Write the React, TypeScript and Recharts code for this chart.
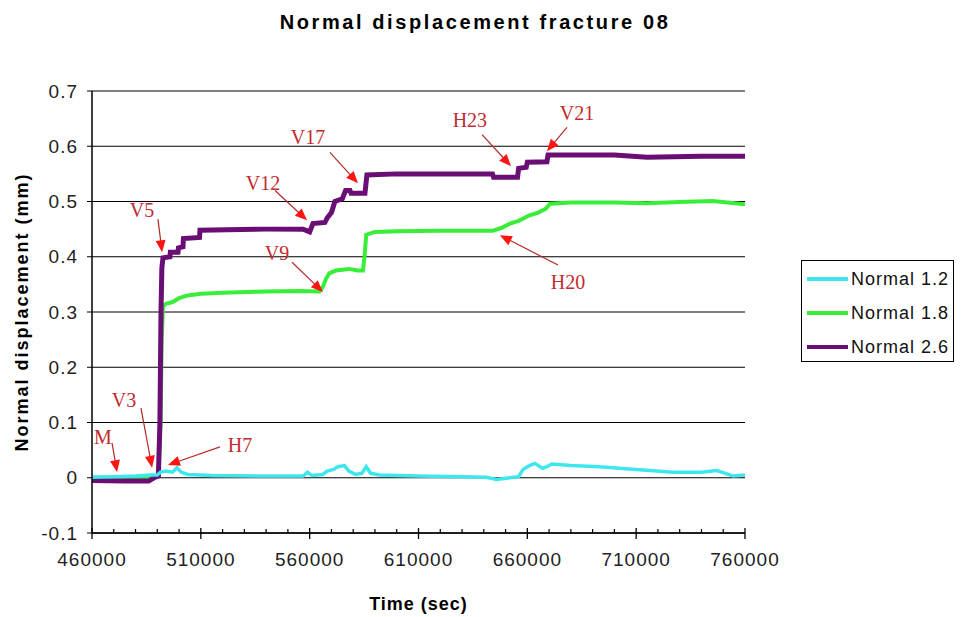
import React from "react";
import {
  CartesianGrid,
  Line,
  LineChart,
  ReferenceDot,
  ReferenceLine,
  XAxis,
  YAxis,
} from "recharts";

// Normal 1.2 (cyan)
const normal12Times = [
  460000, 470000, 480000, 487000, 490000, 491500, 494000, 497000, 499000, 501000,
  504000, 515000, 540000, 557000, 559000, 561000, 566000, 568000, 571000, 573000,
  576000, 578000, 581000, 584000, 586000, 588000, 592000, 610000, 630000, 641000,
  646000, 652000, 656000, 658000, 661000, 663500, 667000, 669000, 671300, 680000,
  693000, 710000, 727000, 740000, 747000, 751000, 754500, 760000,
];
const normal12Values = [
  0.001, 0.002, 0.003, 0.005, 0.005, 0.01, 0.012, 0.01, 0.018, 0.01,
  0.006, 0.004, 0.003, 0.003, 0.01, 0.004, 0.006, 0.012, 0.015, 0.02,
  0.022, 0.012, 0.006, 0.008, 0.02, 0.008, 0.005, 0.003, 0.002, 0.001,
  -0.003, 0.0, 0.002, 0.015, 0.022, 0.026, 0.017, 0.02, 0.025, 0.022,
  0.02, 0.015, 0.01, 0.01, 0.013, 0.008, 0.003, 0.005,
];

// Normal 1.8 (green)
const normal18Times = [
  460000, 488000, 490500, 491500, 492000, 492600, 494000, 497000, 500000, 504000,
  510000, 520000, 540000, 555000, 564500, 566000, 567500, 569000, 572000, 578000,
  582000, 584500, 585200, 586000, 590000, 600000, 620000, 644000, 648000, 652000,
  656000, 661000, 665000, 668500, 670400, 680000, 700000, 715000, 730000, 745000,
  752000, 760000,
];
const normal18Values = [
  0.0, 0.0, 0.005, 0.1, 0.25, 0.31, 0.315, 0.318, 0.325, 0.33,
  0.333, 0.335, 0.337, 0.338, 0.337, 0.345, 0.36, 0.37, 0.375, 0.378,
  0.375, 0.375, 0.4, 0.44, 0.445, 0.446, 0.447, 0.447, 0.452, 0.46,
  0.465, 0.475, 0.48, 0.487, 0.496, 0.498, 0.498, 0.497, 0.499, 0.501,
  0.498, 0.495,
];

// Normal 2.6 (purple)
const normal26Times = [
  460000, 475000, 486000, 488500, 490500, 491200, 491700, 492100, 492600, 495800,
  496000, 499500, 499700, 501800, 502000, 509400, 509600, 540000, 557000, 560000,
  561500, 567000, 568000, 570000, 571600, 575000, 576500, 578500, 579000, 585400,
  586300, 600000, 620000, 644000, 644500, 655500, 656000, 659500, 660000, 669000,
  669500, 700000, 715000, 740000, 760000,
];
const normal26Values = [
  -0.005, -0.006, -0.006, 0.0, 0.003, 0.1, 0.3, 0.38, 0.398, 0.4,
  0.408, 0.408, 0.416, 0.418, 0.433, 0.435, 0.448, 0.45, 0.45, 0.445,
  0.46, 0.462, 0.47, 0.48, 0.5, 0.505, 0.52, 0.52, 0.515, 0.515,
  0.548, 0.55, 0.55, 0.55, 0.544, 0.544, 0.56, 0.562, 0.571, 0.572,
  0.584, 0.584, 0.58, 0.582, 0.582,
];

const seriesNames = ["Normal 1.2", "Normal 1.8", "Normal 2.6"];
const seriesColors = ["#3ee6ee", "#38ee38", "#6a0e76"];
const seriesWidths = [3.5, 4, 5];

const xTicks = [
  460000, 470000, 480000, 490000, 500000, 510000, 520000, 530000, 540000, 550000,
  560000, 570000, 580000, 590000, 600000, 610000, 620000, 630000, 640000, 650000,
  660000, 670000, 680000, 690000, 700000, 710000, 720000, 730000, 740000, 750000,
  760000,
];
const xLabelTicks = [460000, 510000, 560000, 610000, 660000, 710000, 760000];
const yTicks = [-0.1, 0, 0.1, 0.2, 0.3, 0.4, 0.5, 0.6, 0.7];

// annotations: label, text position, arrow start, arrow tip (data coords)
const noteLabels = ["M", "V3", "H7", "V5", "V9", "V12", "V17", "H23", "V21", "H20"];
const noteTextT = [465000, 474700, 528000, 483000, 545000, 538600, 559200, 633600, 682800, 678700];
const noteTextV = [0.074, 0.14, 0.059, 0.484, 0.406, 0.534, 0.616, 0.647, 0.661, 0.354];
const arrowFromT = [469200, 482500, 518800, 490300, 551900, 544100, 569300, 639200, 678200, 674100];
const arrowFromV = [0.063, 0.126, 0.056, 0.468, 0.39, 0.52, 0.589, 0.621, 0.634, 0.385];
const arrowTipT = [471500, 487600, 494900, 492200, 566100, 558800, 582200, 652500, 669000, 647400];
const arrowTipV = [0.01, 0.018, 0.023, 0.408, 0.336, 0.466, 0.533, 0.564, 0.591, 0.439];

const seriesData = [
  normal12Times.map((t, i) => ({ t, v: normal12Values[i] })),
  normal18Times.map((t, i) => ({ t, v: normal18Values[i] })),
  normal26Times.map((t, i) => ({ t, v: normal26Values[i] })),
];
// draw order: green, purple, cyan on top
const drawOrder = [1, 2, 0];

const SANS = '"Liberation Sans", Arial, sans-serif';
const SERIF = '"Liberation Serif", "Times New Roman", serif';

function ArrowShape(props: any) {
  const { x1, y1, x2, y2 } = props;
  const dx = x2 - x1;
  const dy = y2 - y1;
  const len = Math.hypot(dx, dy) || 1;
  const ux = dx / len;
  const uy = dy / len;
  const head = 12;
  const half = 5;
  const bx = x2 - ux * head;
  const by = y2 - uy * head;
  const pts = `${x2},${y2} ${bx - uy * half},${by + ux * half} ${bx + uy * half},${by - ux * half}`;
  return (
    <g>
      <line x1={x1} y1={y1} x2={bx + ux * 2} y2={by + uy * 2} stroke="#b32a2a" strokeWidth={1.2} />
      <polygon points={pts} fill="#ff1414" />
    </g>
  );
}

function XTick(props: any) {
  const { x, y, payload } = props;
  const major = xLabelTicks.includes(payload.value);
  return (
    <g>
      {major ? (
        <line x1={x} y1={y - 5} x2={x} y2={y + 6} stroke="#000" strokeWidth={1.3} />
      ) : (
        <line x1={x} y1={y - 4} x2={x} y2={y} stroke="#000" strokeWidth={1.2} />
      )}
      {major && (
        <text
          x={x}
          y={y + 26}
          textAnchor="middle"
          dominantBaseline="central"
          fontFamily={SANS}
          fontSize={19}
          letterSpacing={1}
          fill="#222"
        >
          {payload.value}
        </text>
      )}
    </g>
  );
}

export default function App() {
  return (
    <div
      style={{
        position: "absolute",
        left: 0,
        top: 0,
        width: 961,
        height: 617,
        background: "#fff",
        fontFamily: SANS,
      }}
    >
      <div
        style={{
          position: "absolute",
          left: 0,
          top: 9,
          width: 950,
          textAlign: "center",
          fontWeight: "bold",
          fontSize: 20,
          letterSpacing: 2.6,
          lineHeight: "26px",
          color: "#000",
        }}
      >
        Normal displacement fracture 08
      </div>
      <LineChart
        width={961}
        height={617}
        margin={{ top: 91, right: 216, left: 12, bottom: 0 }}
        style={{ position: "absolute", left: 0, top: 0 }}
      >
        <CartesianGrid horizontal vertical={false} stroke="#000" strokeWidth={1.2} />
        <XAxis
          dataKey="t"
          type="number"
          domain={[460000, 760000]}
          ticks={xTicks}
          interval={0}
          allowDataOverflow
          height={84}
          tickSize={0}
          tickMargin={0}
          tickLine={false}
          tick={<XTick />}
          axisLine={{ stroke: "#000", strokeWidth: 1.5 }}
          label={{
            value: "Time (sec)",
            position: "insideBottom",
            offset: 7,
            fontFamily: SANS,
            fontSize: 18,
            fontWeight: "bold",
            letterSpacing: 1,
            fill: "#000",
          }}
        />
        <YAxis
          type="number"
          domain={[-0.1, 0.7]}
          ticks={yTicks}
          interval={0}
          allowDataOverflow
          width={80}
          tickSize={5}
          tickMargin={9}
          tickFormatter={(v: number) => String(v)}
          tick={{ fontFamily: SANS, fontSize: 19, fill: "#222", letterSpacing: 1 }}
          tickLine={{ stroke: "#000" }}
          axisLine={{ stroke: "#000", strokeWidth: 1.5 }}
          label={{
            value: "Normal displacement (mm)",
            angle: -90,
            position: "insideLeft",
            offset: 10,
            fontFamily: SANS,
            fontSize: 18,
            fontWeight: "bold",
            letterSpacing: 2,
            fill: "#000",
            style: { textAnchor: "middle" },
          }}
        />
        {drawOrder.map((i) => (
          <Line
            key={seriesNames[i]}
            data={seriesData[i]}
            dataKey="v"
            name={seriesNames[i]}
            type="linear"
            stroke={seriesColors[i]}
            strokeWidth={seriesWidths[i]}
            dot={false}
            activeDot={false}
            isAnimationActive={false}
          />
        ))}
        {noteLabels.map((label, i) => (
          <ReferenceLine
            key={"arrow-" + label}
            segment={[
              { x: arrowFromT[i], y: arrowFromV[i] },
              { x: arrowTipT[i], y: arrowTipV[i] },
            ]}
            ifOverflow="visible"
            shape={ArrowShape}
          />
        ))}
        {noteLabels.map((label, i) => (
          <ReferenceDot
            key={"note-" + label}
            x={noteTextT[i]}
            y={noteTextV[i]}
            r={0}
            ifOverflow="visible"
            shape={(p: any) => (
              <text
                x={p.cx}
                y={p.cy}
                textAnchor="middle"
                dominantBaseline="central"
                fontFamily={SERIF}
                fontSize={20}
                fill="#c22a2e"
              >
                {label}
              </text>
            )}
          />
        ))}
      </LineChart>
      <div
        style={{
          position: "absolute",
          left: 801,
          top: 260,
          width: 153,
          height: 102,
          border: "1px solid #000",
          background: "#fff",
          boxSizing: "border-box",
          paddingTop: 1,
        }}
      >
        {seriesNames.map((name, i) => (
          <div
            key={name}
            style={{ display: "flex", alignItems: "center", height: 34 }}
          >
            <div
              style={{
                width: 41,
                height: 4,
                marginLeft: 5,
                background: seriesColors[i],
              }}
            />
            <span
              style={{
                marginLeft: 3,
                fontSize: 18,
                letterSpacing: 1,
                color: "#111",
                fontFamily: SANS,
              }}
            >
              {name}
            </span>
          </div>
        ))}
      </div>
    </div>
  );
}
